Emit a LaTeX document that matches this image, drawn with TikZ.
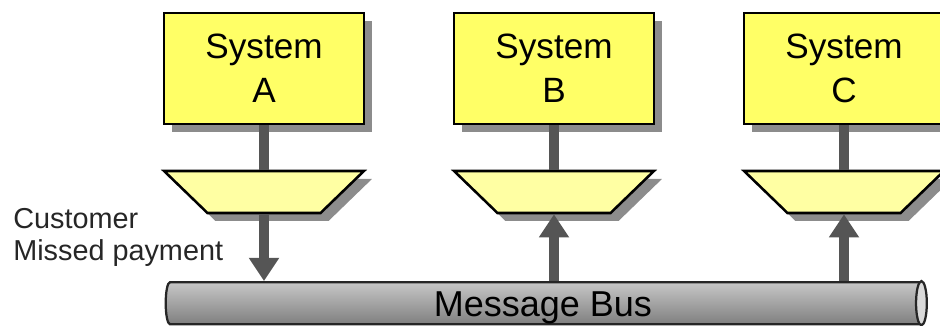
\documentclass[tikz,border=0pt]{standalone}
\usepackage{fontspec}
\setmainfont{Liberation Sans}
\usetikzlibrary{arrows.meta, calc, shapes, shadows, positioning}

\definecolor{sysyellow}{HTML}{FFFF66}
\definecolor{epyellow}{HTML}{FFFFA3}
\definecolor{pipegray}{HTML}{555555}
\definecolor{shadowgray}{HTML}{8C8C8C}

\begin{document}
\begin{tikzpicture}[
	boxshadow/.style={drop shadow={shadow xshift=0.2cm, shadow yshift=-0.2cm, fill=shadowgray, opacity=1}},
	sysbox/.style={draw=black, line width=1.8pt, fill=sysyellow, minimum width=5cm, minimum height=2.78cm,
		align=center, font=\fontsize{25}{31}\selectfont, boxshadow},
	endpoint/.style={draw=black, line width=1.8pt, fill=epyellow, trapezium, trapezium stretches=true,
		shape border rotate=180, trapezium angle=69, minimum width=5cm, minimum height=1.05cm, boxshadow},
	pipe/.style={draw=pipegray, line width=7pt},
	flow/.style={pipe, -{Triangle[width=0.72cm,length=0.58cm]}},
	]
	\path[use as bounding box, clip] (0,0) rectangle (23.5,-8.15);
	
	\coordinate (SA) at (6.6,-1.71);
	\coordinate (SB) at (13.85,-1.71);
	\coordinate (SC) at (21.1,-1.71);
	
	\coordinate (EA) at (6.6,-4.8);
	\coordinate (EB) at (13.85,-4.8);
	\coordinate (EC) at (21.1,-4.8);
	
	\coordinate (Bus) at (13.575,-7.58);
	\coordinate (Lbl) at (0.325,-5.2);
	
	\node[sysbox] (sysA) at (SA) {System\\A};
	\node[sysbox] (sysB) at (SB) {System\\B};
	\node[sysbox] (sysC) at (SC) {System\\C};
	
	\node[endpoint] (epA) at (EA) {};
	\node[endpoint] (epB) at (EB) {};
	\node[endpoint] (epC) at (EC) {};
	
	\node[cylinder, shape aspect=0.33, draw=black!85, line width=1.6pt, top color=black!22, bottom color=black!50,
		minimum height=19cm, minimum width=1.05cm, inner sep=0pt, text height=18.4pt, text depth=0pt,
		font=\fontsize{25.6}{30}\selectfont] (bus) at (Bus) {Message Bus};
	\draw[black!85, line width=1.6pt, fill=black!15]
		let \p1=(bus.before top), \p2=(bus.after top), \p3=(bus.top) in
		($(\p1)!0.5!(\p2)$) ellipse ({\x3-\x1} and {(\y1-\y2)/2});
	
	\node[anchor=north west, inner sep=0pt, align=left, font=\fontsize{20.5}{23}\selectfont, text=black!85]
		(msg) at (Lbl) {Customer\\Missed payment};
	
	\draw[pipe] (sysA.south) -- (epA.north);
	\draw[pipe] (sysB.south) -- (epB.north);
	\draw[pipe] (sysC.south) -- (epC.north);
	
	\draw[flow] (epA.south) -- (epA.south |- bus.north);
	\draw[flow] (epB.south |- bus.north) -- (epB.south);
	\draw[flow] (epC.south |- bus.north) -- (epC.south);
\end{tikzpicture}
\end{document}
